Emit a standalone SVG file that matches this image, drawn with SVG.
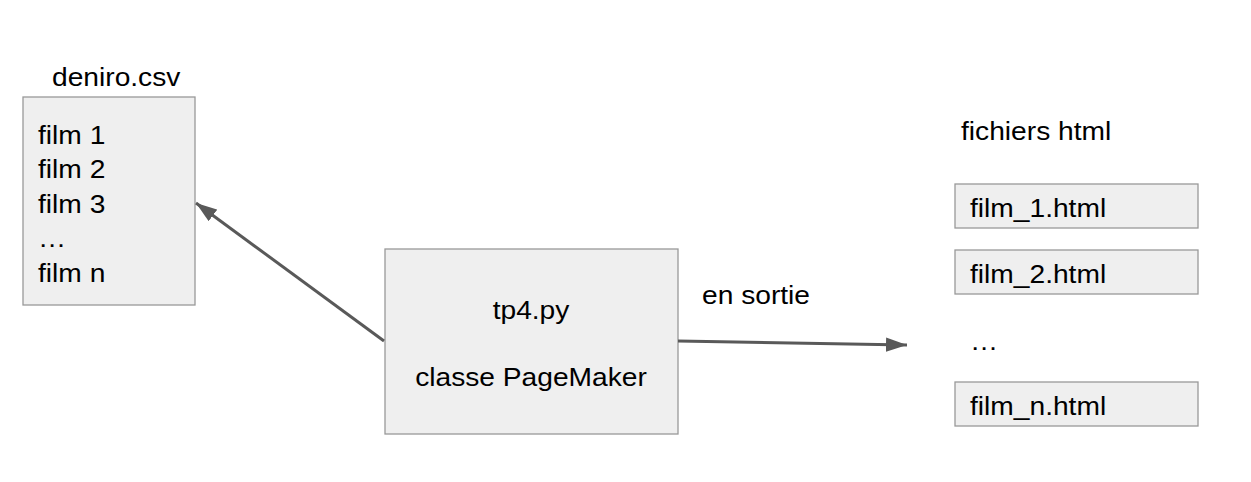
<svg xmlns="http://www.w3.org/2000/svg" width="1251" height="482" viewBox="0 0 1251 482">
<defs>
<style>
.box{fill:#efefef;stroke:#999999;stroke-width:1.3}
.t{font-family:"Liberation Sans",Arial,sans-serif;font-size:25.5px;fill:#000}
.c{stroke:#595959;stroke-width:3;fill:none}
</style>
<marker id="ah" markerWidth="7" markerHeight="5" refX="7" refY="2.4" orient="auto" markerUnits="strokeWidth">
<path d="M0,0 L7,2.4 L0,4.8 Z" fill="#595959"/>
</marker>
</defs>
<rect width="1251" height="482" fill="#fff"/>
<g id="deniro">
<text class="t" transform="translate(52,86) scale(1.105,1)">deniro.csv</text>
<rect class="box" x="23" y="97" width="172" height="208"/>
<text class="t" transform="translate(38,143.5) scale(1.105,1)">film 1</text>
<text class="t" transform="translate(38,178) scale(1.105,1)">film 2</text>
<text class="t" transform="translate(38,212.5) scale(1.105,1)">film 3</text>
<text class="t" transform="translate(38,247) scale(1.105,1)">…</text>
<text class="t" transform="translate(38,281.5) scale(1.105,1)">film n</text>
</g>
<g id="tp4">
<rect class="box" x="385" y="249" width="293" height="185"/>
<text class="t" text-anchor="middle" transform="translate(531,319) scale(1.105,1)">tp4.py</text>
<text class="t" text-anchor="middle" transform="translate(531,386) scale(1.105,1)">classe PageMaker</text>
</g>
<g id="html">
<text class="t" transform="translate(961,140) scale(1.105,1)">fichiers html</text>
<rect class="box" x="955" y="184" width="243" height="44"/>
<text class="t" transform="translate(970,216.5) scale(1.105,1)">film_1.html</text>
<rect class="box" x="955" y="250" width="243" height="44"/>
<text class="t" transform="translate(970,283) scale(1.105,1)">film_2.html</text>
<text class="t" transform="translate(970,350) scale(1.105,1)">…</text>
<rect class="box" x="955" y="382" width="243" height="44"/>
<text class="t" transform="translate(970,414.5) scale(1.105,1)">film_n.html</text>
</g>
<g id="connectors">
<line class="c" x1="384" y1="341" x2="196" y2="203" marker-end="url(#ah)"/>
<line class="c" x1="678" y1="341" x2="907" y2="345" marker-end="url(#ah)"/>
<text class="t" transform="translate(702,303.5) scale(1.105,1)">en sortie</text>
</g>
</svg>
